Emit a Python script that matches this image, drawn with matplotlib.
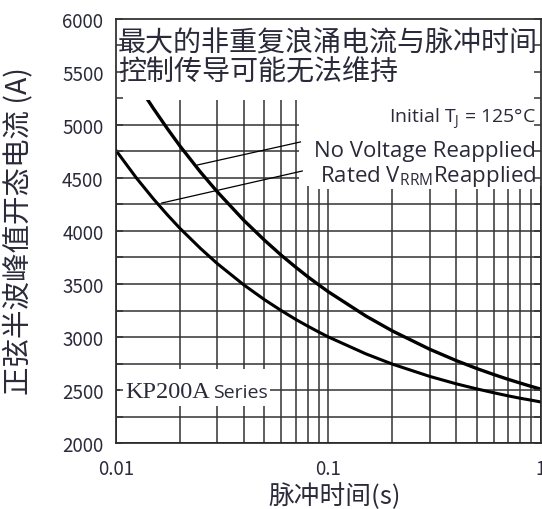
import matplotlib
matplotlib.use("Agg")
import matplotlib.pyplot as plt
from matplotlib.patches import Rectangle
from matplotlib.ticker import MultipleLocator, NullFormatter

plt.rcParams["font.family"] = ["Noto Sans CJK SC", "DejaVu Sans"]
plt.rcParams["mathtext.fontset"] = "custom"
plt.rcParams["mathtext.rm"] = "Open Sans"
plt.rcParams["mathtext.it"] = "Open Sans"

# ==========================
# Données
# ==========================

t_no_voltage = [0.0136, 0.015, 0.0175, 0.02, 0.025, 0.03, 0.04, 0.05, 0.06,
                0.07, 0.08, 0.09, 0.1, 0.15, 0.2, 0.3, 0.4, 0.5, 0.6, 0.7,
                0.8, 0.9, 1.0]
i_no_voltage = [5286, 5156, 4962, 4802, 4555, 4369, 4100, 3913, 3771,
                3660, 3568, 3492, 3426, 3198, 3057, 2884, 2777, 2702, 2646, 2601,
                2565, 2534, 2508]

t_rated = [0.01, 0.0125, 0.015, 0.0175, 0.02, 0.025, 0.03, 0.04, 0.05, 0.06,
           0.07, 0.08, 0.09, 0.1, 0.15, 0.2, 0.3, 0.4, 0.5, 0.6, 0.7, 0.8,
           0.9, 1.0]
i_rated = [4760, 4498, 4303, 4150, 4025, 3835, 3692, 3491, 3352, 3249,
           3167, 3102, 3047, 3000, 2841, 2744, 2628, 2558, 2510, 2474, 2445, 2422,
           2404, 2387]

title = "最大的非重复浪涌电流与脉冲时间\n控制传导可能无法维持"
y_label = "正弦半波峰值开态电流 (A)"
x_label = "脉冲时间(s)"
x_ticks = [0.01, 0.1, 1]
x_tick_labels = ["0.01", "0.1", "1"]
y_ticks = [2000, 2500, 3000, 3500, 4000, 4500, 5000, 5500, 6000]

txt_color = "#2a2a3a"
grid_color = "#333333"

# ==========================
# Figure
# ==========================

fig = plt.figure(figsize=(5.42, 5.10), dpi=100)
ax = fig.add_axes([0.214, 0.1294, 0.784, 0.8314])

ax.set_xscale("log")
ax.set_xlim(0.01, 1)
ax.set_ylim(2000, 6000)

ax.set_xticks(x_ticks)
ax.set_xticklabels(x_tick_labels)
ax.set_yticks(y_ticks)
ax.yaxis.set_minor_locator(MultipleLocator(250))
ax.xaxis.set_minor_formatter(NullFormatter())

ax.grid(True, which="both", color=grid_color, linewidth=1.1)
ax.tick_params(which="both", direction="in", length=0, colors=txt_color,
               labelsize=13.5)
ax.tick_params(axis="y", pad=9)
ax.tick_params(axis="x", pad=11)

for s in ax.spines.values():
    s.set_color("#222222")
    s.set_linewidth(1.2)

# courbes
ax.plot(t_no_voltage, i_no_voltage, color="black", linewidth=2.4, zorder=2)
ax.plot(t_rated, i_rated, color="black", linewidth=2.2, zorder=2)

# zones blanches (le texte masque la grille)
ax.add_patch(Rectangle((0.01, 5235), 0.99, 800, facecolor="white",
                       edgecolor="none", zorder=2.2))
ax.add_patch(Rectangle((0.073, 4420), 0.93, 820, facecolor="white",
                       edgecolor="none", zorder=2.2))
ax.add_patch(Rectangle((0.01044, 2349), 0.0428, 349, facecolor="white",
                       edgecolor="none", zorder=2.2))

# titre
ax.text(0.0102, 5645, title, fontsize=20.2, color=txt_color,
        va="center", ha="left", linespacing=1.0, zorder=3)

# annotations
ax.text(0.95, 5028, r"Initial T$_\mathrm{J}$ = 125°C", fontsize=14,
        family="Open Sans", color=txt_color, ha="right", va="baseline",
        zorder=3)
ax.text(0.95, 4708, "No Voltage Reapplied", fontsize=16,
        family="Open Sans", color=txt_color, ha="right", va="baseline",
        zorder=3)
ax.text(0.95, 4472, r"Rated V$_\mathrm{RRM}$Reapplied", fontsize=16,
        family="Open Sans", color=txt_color, ha="right", va="baseline",
        zorder=3, bbox=dict(facecolor="white", edgecolor="none", pad=1))

ax.plot([0.0242, 0.0738], [4623, 4840], color="black", linewidth=0.9, zorder=2.4)
ax.plot([0.01643, 0.0753], [4264, 4566], color="black", linewidth=0.9, zorder=2.4)

ax.text(0.0110, 2434, "KP200A", fontsize=17.5, family="Liberation Serif",
        color=txt_color, ha="left", va="baseline", zorder=3)
ax.text(0.0285, 2434, "Series", fontsize=14, family="Open Sans",
        color=txt_color, ha="left", va="baseline", zorder=3)

# graduations visibles sur les zones blanches
ax_t = ax.twinx()
ax_t.set_ylim(2000, 6000)
ax_t.yaxis.set_major_locator(MultipleLocator(250))
ax_t.tick_params(axis="y", which="both", direction="in", length=5,
                 width=1.1, color=grid_color, left=True, right=True,
                 labelleft=False, labelright=False)
for s in ax_t.spines.values():
    s.set_visible(False)

ax.set_ylabel(y_label, fontsize=20.5, color=txt_color)
ax.yaxis.set_label_coords(-0.195, 0.502)
ax.set_xlabel(x_label, fontsize=18.5, color=txt_color)
ax.xaxis.set_label_coords(0.515, -0.092)

plt.savefig("out.png", dpi=100)
